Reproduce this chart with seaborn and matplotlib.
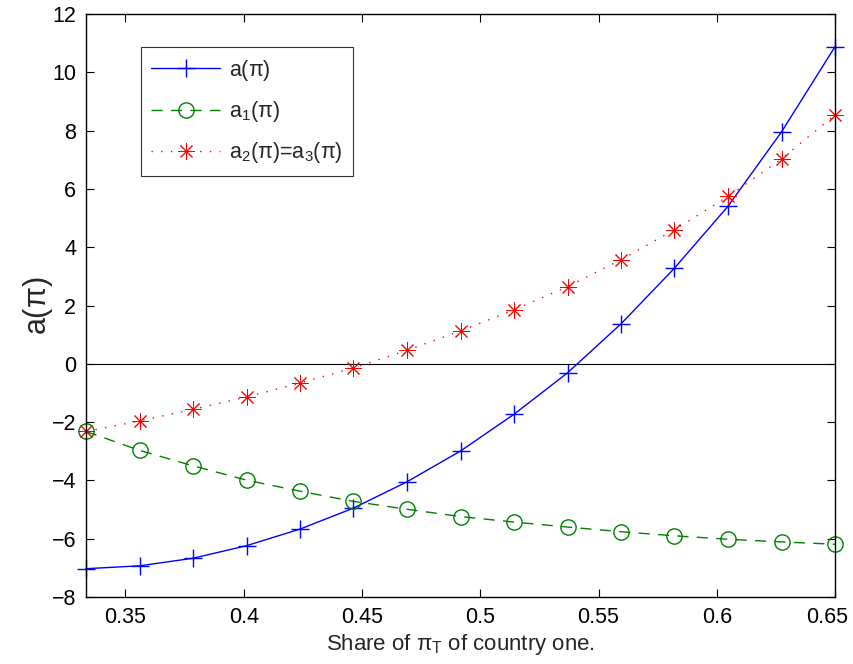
import numpy as np
import pandas as pd
import matplotlib
matplotlib.use('Agg')
import matplotlib.pyplot as plt
import matplotlib.transforms as mtransforms
import seaborn as sns

# share of pi_T of country one (15 sample points)
share = [0.3333, 0.3560, 0.3786, 0.4012, 0.4238, 0.4464, 0.4690, 0.4917,
         0.5143, 0.5369, 0.5595, 0.5821, 0.6048, 0.6274, 0.6500]

a_pi = [-7.03, -6.93, -6.67, -6.24, -5.67, -4.95, -4.05, -2.99,
        -1.73, -0.31, 1.37, 3.28, 5.41, 7.96, 10.88]
a1_pi = [-2.32, -2.97, -3.50, -3.99, -4.37, -4.72, -4.99, -5.24,
         -5.43, -5.60, -5.76, -5.90, -6.02, -6.11, -6.19]
a23_pi = [-2.32, -1.96, -1.56, -1.14, -0.66, -0.14, 0.46, 1.13,
          1.85, 2.65, 3.57, 4.60, 5.74, 7.03, 8.54]

xtick_vals = [0.35, 0.4, 0.45, 0.5, 0.55, 0.6, 0.65]
xtick_labels = ['0.35', '0.4', '0.45', '0.5', '0.55', '0.6', '0.65']

df = pd.DataFrame({'share': share, 'a': a_pi, 'a1': a1_pi, 'a23': a23_pi})

sns.set_style('ticks')
plt.rcParams['font.family'] = ['Liberation Sans', 'DejaVu Sans']
plt.rcParams['mathtext.fontset'] = 'custom'
plt.rcParams['mathtext.rm'] = 'Liberation Sans'
plt.rcParams['mathtext.it'] = 'Liberation Sans'

fig = plt.figure(figsize=(8.54, 6.64), dpi=100)
ax = fig.add_axes([0.1007, 0.1009, 0.8771, 0.878])

ax.axhline(0, color='black', lw=0.8, zorder=1)

blue, green, red = '#0000FF', '#008000', '#FF0000'

sns.lineplot(data=df, x='share', y='a', ax=ax, color=blue, lw=1,
             marker='+', markersize=13, markeredgewidth=1,
             markeredgecolor=blue, clip_on=False, label=r'a($\pi$)')
sns.lineplot(data=df, x='share', y='a1', ax=ax, color=green, lw=1,
             linestyle=(0, (8, 6)), marker='o', markersize=11,
             markerfacecolor='none', markeredgecolor=green,
             markeredgewidth=1, clip_on=False, label=r'a$_1$($\pi$)')
sns.lineplot(data=df, x='share', y='a23', ax=ax, color=red, lw=1,
             linestyle=(0, (1, 6)), marker=(8, 2, 0), markersize=12,
             markeredgewidth=0.7, markeredgecolor=red, clip_on=False,
             label=r'a$_2$($\pi$)=a$_3$($\pi$)')

ax.set_xlim(1 / 3, 0.65)
ax.set_ylim(-8, 12)
ax.set_xticks(xtick_vals)
ax.set_xticklabels(xtick_labels)
ax.set_yticks(range(-8, 13, 2))

ax.tick_params(direction='in', top=True, right=True, length=6, width=0.8,
               labelsize=15.5, colors='black', pad=7)
for s in ax.spines.values():
    s.set_visible(True)
    s.set_linewidth(1)
    s.set_color('black')

# nudge the last x tick label left so it stays inside the figure
last = ax.get_xticklabels()[-1]
last.set_transform(last.get_transform() +
                   mtransforms.ScaledTranslation(-6 / 72, 0, fig.dpi_scale_trans))

ax.set_xlabel(r'Share of $\pi_T$ of country one.', fontsize=16, labelpad=3)
ax.set_ylabel(r'a($\pi$)', fontsize=22, labelpad=-2)

leg = ax.legend(loc='upper left', bbox_to_anchor=(0.073, 0.943),
                borderaxespad=0, fontsize=15.5, frameon=True, fancybox=False,
                edgecolor='black', handlelength=3.2, labelspacing=0.75,
                borderpad=0.5, handletextpad=0.4)
leg.get_frame().set_linewidth(0.8)

fig.savefig('out.png', dpi=100, facecolor='white')
